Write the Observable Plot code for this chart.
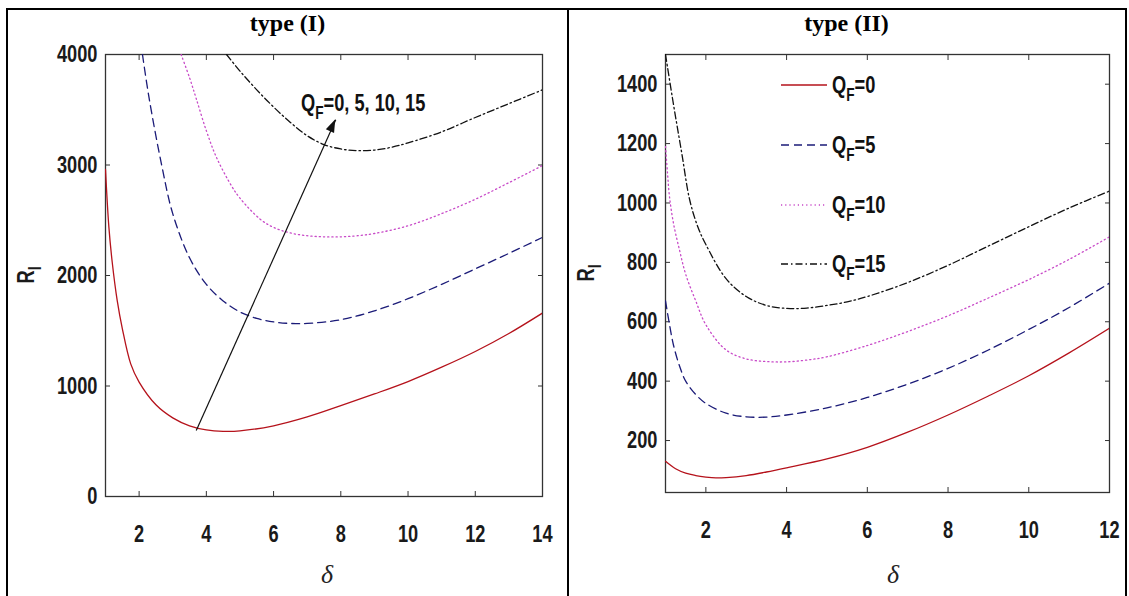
<!DOCTYPE html>
<html><head><meta charset="utf-8">
<script src="https://cdn.jsdelivr.net/npm/d3@7"></script>
<script src="https://cdn.jsdelivr.net/npm/@observablehq/plot@0.6"></script>
<style>
html,body{margin:0;padding:0;background:#fff;}
body{width:1129px;height:596px;overflow:hidden;position:relative;}
.box{position:absolute;top:8px;height:700px;box-sizing:border-box;border:2.5px solid #000;}
.ptitle{position:absolute;top:11px;font-family:"Liberation Serif","Times New Roman",serif;font-weight:bold;font-size:24px;line-height:24px;text-align:center;}
.pl{position:absolute;top:0;}
</style></head><body>
<div class="box" style="left:6px;width:563px;"></div>
<div class="box" style="left:566px;width:561px;border-left:none;"></div>
<div class="ptitle" style="left:6px;width:563px;">type (I)</div>
<div class="ptitle" style="left:566px;width:561px;">type (II)</div>
<div id="p1" class="pl" style="left:0px"></div>
<div id="p2" class="pl" style="left:567px"></div>
<script>
// ---------- data ----------
const qfValues = [0, 5, 10, 15];

// type (I): [delta, R_I]
const typeI_Q0 = [[1.0,2960],[1.1,2440],[1.2,2120],[1.35,1770],[1.5,1520],[1.75,1200],[2.0,1035],[2.5,830],[3.0,712],[3.5,640],[4.0,603],[4.5,590],[5.0,594],[6,640],[7,720],[8,822],[9,928],[10,1040],[11,1170],[12,1312],[13,1475],[14,1660]];
const typeI_Q5 = [[2.1,4000],[2.3,3600],[2.67,3000],[3.0,2560],[3.5,2160],[4.0,1920],[4.5,1770],[5.0,1670],[5.5,1612],[6.0,1580],[6.5,1566],[7.0,1566],[8.0,1600],[9.0,1680],[10,1790],[11,1920],[12,2060],[13,2200],[14,2345]];
const typeI_Q10 = [[3.25,4000],[3.5,3790],[3.7,3600],[4.0,3310],[4.3,3070],[4.75,2810],[5.0,2700],[5.6,2510],[6.0,2435],[6.5,2385],[7.0,2360],[7.5,2350],[8.0,2350],[8.5,2360],[9.0,2380],[10,2450],[11,2560],[12,2690],[13,2840],[14,2995]];
const typeI_Q15 = [[4.6,4000],[5.0,3850],[5.5,3680],[6.0,3525],[6.5,3385],[7.0,3265],[7.5,3185],[8.0,3145],[8.5,3130],[9.0,3135],[9.5,3160],[10,3200],[11,3300],[12,3430],[13,3555],[14,3680]];

// type (II): [delta, R_I]
const typeII_Q0 = [[1.0,130],[1.25,105],[1.5,90],[1.75,82],[2.0,77],[2.25,74],[2.5,75],[3.0,82],[3.5,94],[4.0,108],[5.0,138],[6.0,177],[7.0,228],[8.0,286],[9.0,350],[10,418],[11,495],[12,578]];
const typeII_Q5 = [[1.0,670],[1.1,590],[1.2,520],[1.35,450],[1.5,400],[1.75,355],[2.0,325],[2.5,292],[3.0,280],[3.5,279],[4.0,286],[5.0,310],[6.0,345],[7.0,390],[8.0,443],[9.0,505],[10,574],[11,648],[12,730]];
const typeII_Q10 = [[1.0,1190],[1.05,1100],[1.1,1020],[1.2,930],[1.35,840],[1.5,760],[1.75,670],[2.0,590],[2.5,505],[3.0,475],[3.5,466],[4.0,465],[4.5,471],[5.0,482],[6.0,520],[7.0,567],[8.0,620],[9.0,680],[10,742],[11,810],[12,886]];
const typeII_Q15 = [[1.0,1500],[1.2,1330],[1.4,1170],[1.6,1010],[1.8,920],[2.0,860],[2.5,745],[3.0,685],[3.5,655],[4.0,645],[4.5,646],[5.0,655],[5.5,667],[6.0,685],[7.0,732],[8.0,790],[9.0,855],[10,920],[11,983],[12,1040]];

const typeI_xTicks = [2,4,6,8,10,12,14];
const typeI_yTicks = [0,1000,2000,3000,4000];
const typeII_xTicks = [2,4,6,8,10,12];
const typeII_yTicks = [200,400,600,800,1000,1200,1400];

// annotation (type I): arrow from / to, and text anchor, in data units
const arrowFrom = [3.7, 597];
const arrowTo = [7.85, 3410];
const annotAt = [6.83, 3484];

// ---------- styles ----------
const styles = [
  {stroke:"#b5121b", dash:null},
  {stroke:"#1b1b78", dash:"8,5"},
  {stroke:"#c84ac8", dash:"1.2,3"},
  {stroke:"#111111", dash:"7,3,1.5,3"}
];
const sans = '"Liberation Sans",Arial,Helvetica,sans-serif';
const NARROW = 0.76;
const FS = 24;

function condense(svg) {
  svg.querySelectorAll("text").forEach(t => {
    if (t.classList.contains("serif")) return;
    const x = t.getAttribute("x");
    if (x !== null && !isNaN(+x)) t.setAttribute("x", +x / NARROW);
    t.setAttribute("transform", (t.getAttribute("transform") || "") + ` scale(${NARROW},1)`);
  });
}

function makePanel({series, xDomain, yDomain, xTicks, yTicks, width, mL, mR, mT, mB}) {
  const marks = [
    Plot.frame({stroke:"#333", strokeWidth:1.3}),
    Plot.axisX({ticks:xTicks, anchor:"bottom", tickSize:0, tickPadding:28, label:null, tickFormat:d=>String(d)}),
    Plot.axisX({ticks:xTicks, anchor:"bottom", tickSize:5, dy:-5, text:null, label:null, stroke:"#333"}),
    Plot.axisX({ticks:xTicks, anchor:"top", tickSize:5, dy:5, text:null, label:null, stroke:"#333"}),
    Plot.axisY({ticks:yTicks, anchor:"left", tickSize:0, tickPadding:8, label:null, tickFormat:d=>String(d)}),
    Plot.axisY({ticks:yTicks, anchor:"left", tickSize:5, dx:5, text:null, label:null, stroke:"#333"}),
    Plot.axisY({ticks:yTicks, anchor:"right", tickSize:5, dx:-5, text:null, label:null, stroke:"#333"})
  ];
  series.forEach((s, i) => {
    marks.push(Plot.line(s, {x:d=>d[0], y:d=>d[1], stroke:styles[i].stroke, strokeWidth:1.3,
      strokeDasharray:styles[i].dash, curve:"catmull-rom", clip:true}));
  });
  return {marks, opts:{width, height:596, marginLeft:mL, marginRight:mR, marginTop:mT, marginBottom:mB,
    x:{domain:xDomain}, y:{domain:yDomain},
    style:{background:"transparent", fontFamily:sans, fontSize:FS + "px", fontWeight:"bold", color:"#1a1a1a", overflow:"visible"}}};
}

function sansText(sel, x, y) {
  return sel.append("text").attr("x", x).attr("y", y).attr("text-anchor","start")
    .attr("font-family", sans).attr("font-weight","bold").attr("font-size",FS).attr("fill","#111");
}

function addAxisLabels(svg, xCenter, rX, yCenter) {
  const s = d3.select(svg);
  const r = s.append("text").attr("transform", `translate(${rX},${yCenter}) rotate(-90)`)
    .attr("text-anchor","middle").attr("font-family", sans).attr("font-weight","bold").attr("font-size",FS).attr("fill","#1a1a1a");
  r.append("tspan").text("R");
  r.append("tspan").attr("dy",7).attr("font-size",18).text("I");
  s.append("text").attr("class","serif").attr("x", xCenter).attr("y", 583).attr("text-anchor","middle")
    .attr("font-family",'"Liberation Serif","Times New Roman",serif').attr("font-style","italic").attr("font-weight","normal")
    .attr("font-size",26).attr("fill","#222").text("δ");
}

function qfText(sel, rest) {
  sel.append("tspan").text("Q");
  sel.append("tspan").attr("dy",8).attr("font-size",18).text("F");
  sel.append("tspan").attr("dy",-8).text(rest);
}

// ---------- panel I ----------
const pI = makePanel({series:[typeI_Q0,typeI_Q5,typeI_Q10,typeI_Q15], xDomain:[1,14], yDomain:[0,4000],
  xTicks:typeI_xTicks, yTicks:typeI_yTicks, width:567, mL:105, mR:25, mT:54, mB:100});
pI.marks.push(Plot.link([{a:arrowFrom, b:arrowTo}], {x1:d=>d.a[0], y1:d=>d.a[1], x2:d=>d.b[0], y2:d=>d.b[1],
  stroke:"#111", strokeWidth:1.2}));
const svgI = Plot.plot({...pI.opts, marks:pI.marks});
document.getElementById("p1").appendChild(svgI);
addAxisLabels(svgI, 327, 34, 275);
{
  const sx = svgI.scale("x"), sy = svgI.scale("y");
  // filled arrowhead at the arrow's end, oriented along the shaft
  const x0 = sx.apply(arrowFrom[0]), y0 = sy.apply(arrowFrom[1]);
  const x1 = sx.apply(arrowTo[0]), y1 = sy.apply(arrowTo[1]);
  const ang = Math.atan2(y1 - y0, x1 - x0), L = 13, W = 4.5;
  const bx = x1 - L * Math.cos(ang), by = y1 - L * Math.sin(ang);
  const px = -Math.sin(ang) * W, py = Math.cos(ang) * W;
  d3.select(svgI).append("polygon")
    .attr("points", `${x1},${y1} ${bx + px},${by + py} ${bx - px},${by - py}`).attr("fill","#111");
  const t = sansText(d3.select(svgI), sx.apply(annotAt[0]), sy.apply(annotAt[1]));
  qfText(t, "=0, 5, 10, 15");
}
condense(svgI);

// ---------- panel II ----------
const pII = makePanel({series:[typeII_Q0,typeII_Q5,typeII_Q10,typeII_Q15], xDomain:[1,12], yDomain:[25,1500],
  xTicks:typeII_xTicks, yTicks:typeII_yTicks, width:562, mL:98, mR:20, mT:54, mB:104});
const svgII = Plot.plot({...pII.opts, marks:pII.marks});
document.getElementById("p2").appendChild(svgII);
addAxisLabels(svgII, 326, 27, 273);
{
  const s = d3.select(svgII);
  const rowsY = [85, 145, 205, 264];
  qfValues.forEach((q, i) => {
    const y = rowsY[i];
    s.append("line").attr("x1",214).attr("x2",260).attr("y1",y).attr("y2",y)
      .attr("stroke",styles[i].stroke).attr("stroke-width",1.3).attr("stroke-dasharray",styles[i].dash);
    const t = sansText(s, 265, y + 8);
    qfText(t, "=" + q);
  });
}
condense(svgII);
</script>
</body></html>
